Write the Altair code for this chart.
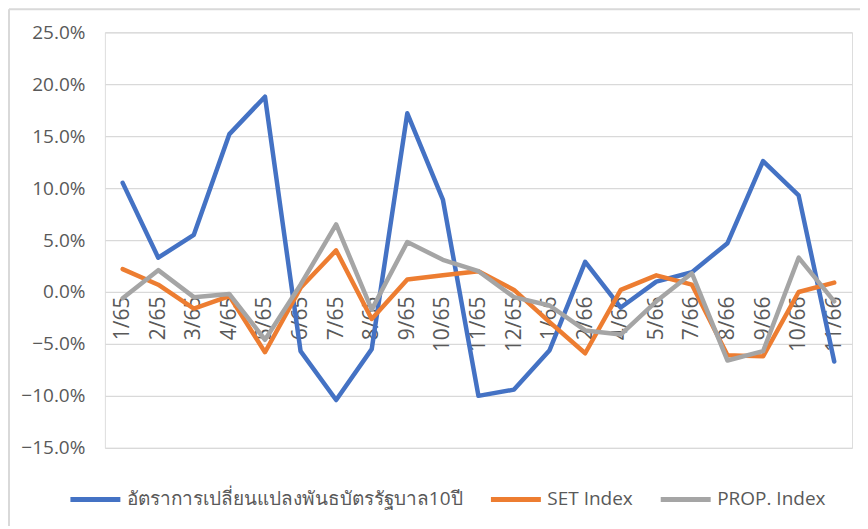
import altair as alt
import pandas as pd

categories = ["1/65", "2/65", "3/65", "4/65", "5/65", "6/65", "7/65", "8/65", "9/65", "10/65",
              "11/65", "12/65", "1/66", "2/66", "4/66", "5/66", "7/66", "8/66", "9/66", "10/66", "11/66"]

series_names = ["อัตราการเปลี่ยนแปลงพันธบัตรรัฐบาล10ปี", "SET Index", "PROP. Index"]

bond_10y = [10.5, 3.3, 5.5, 15.2, 18.8, -5.7, -10.4, -5.5, 17.2, 8.9, -10.0, -9.4,
            -5.6, 2.9, -1.5, 1.0, 1.9, 4.7, 12.6, 9.3, -6.7]
set_index = [2.2, 0.7, -1.6, -0.4, -5.8, 0.4, 4.0, -2.6, 1.2, 1.6, 2.0, 0.2,
             -2.9, -5.9, 0.2, 1.6, 0.7, -6.1, -6.2, 0.0, 0.9]
prop_index = [-0.6, 2.1, -0.5, -0.2, -4.6, 0.7, 6.5, -1.7, 4.8, 3.1, 2.0, -0.5,
              -1.3, -3.7, -4.1, -0.9, 1.8, -6.6, -5.7, 3.3, -0.9]

colors = ["#4472C4", "#ED7D31", "#A5A5A5"]
y_ticks = [-0.15, -0.10, -0.05, 0.0, 0.05, 0.10, 0.15, 0.20, 0.25]

rows = []
for name, vals in zip(series_names, [bond_10y, set_index, prop_index]):
    for i, (c, v) in enumerate(zip(categories, vals)):
        rows.append({"month": c, "value": v / 100.0, "series": name, "order": i})
df = pd.DataFrame(rows)

FONT = "Open Sans"
LABEL_COLOR = "#595959"

lines = alt.Chart(df).mark_line(strokeWidth=4.5, strokeJoin="round", strokeCap="round").encode(
    x=alt.X("month:N", sort=categories,
            scale=alt.Scale(padding=0.5),
            axis=alt.Axis(title=None, labelAngle=-90, labelAlign="right", labelBaseline="middle",
                          labelPadding=4, domain=False, ticks=False, grid=False,
                          offset=-156, labelFontSize=21, labelColor=LABEL_COLOR,
                          labelFont=FONT, labelOverlap=False)),
    y=alt.Y("value:Q",
            scale=alt.Scale(domain=[-0.15, 0.25], nice=False, zero=False),
            axis=alt.Axis(title=None, format=".1%", values=y_ticks, domain=False, ticks=False,
                          labelPadding=20, gridColor="#D9D9D9", gridWidth=1.3,
                          labelFontSize=19, labelColor=LABEL_COLOR, labelFont=FONT)),
    color=alt.Color("series:N", sort=series_names,
                    scale=alt.Scale(domain=series_names, range=colors),
                    legend=alt.Legend(title=None, orient="none", legendX=-37, legendY=440,
                                      direction="horizontal", symbolType="stroke",
                                      symbolSize=2500, symbolStrokeWidth=5,
                                      labelOffset=4, columnPadding=17,
                                      labelFontSize=19, labelColor=LABEL_COLOR, labelFont=FONT,
                                      labelLimit=500)),
    order=alt.Order("order:Q"),
)

frame_df = pd.DataFrame({"k": [0]})
left_border = alt.Chart(frame_df).mark_rule(color="#D9D9D9", strokeWidth=2).encode(
    x=alt.value(-96), y=alt.value(-23), y2=alt.value(520))
top_border = alt.Chart(frame_df).mark_rule(color="#D9D9D9", strokeWidth=2).encode(
    x=alt.value(-96), x2=alt.value(770), y=alt.value(-23))

chart = alt.layer(left_border, top_border, lines).properties(
    width=748, height=416,
    autosize=alt.AutoSizeParams(type="none"),
    padding={"left": 97, "top": 24, "right": 8, "bottom": 78},
).configure_view(stroke=None).configure(font=FONT)

chart.save("out.html", embed_options={"renderer": "svg", "actions": False})
